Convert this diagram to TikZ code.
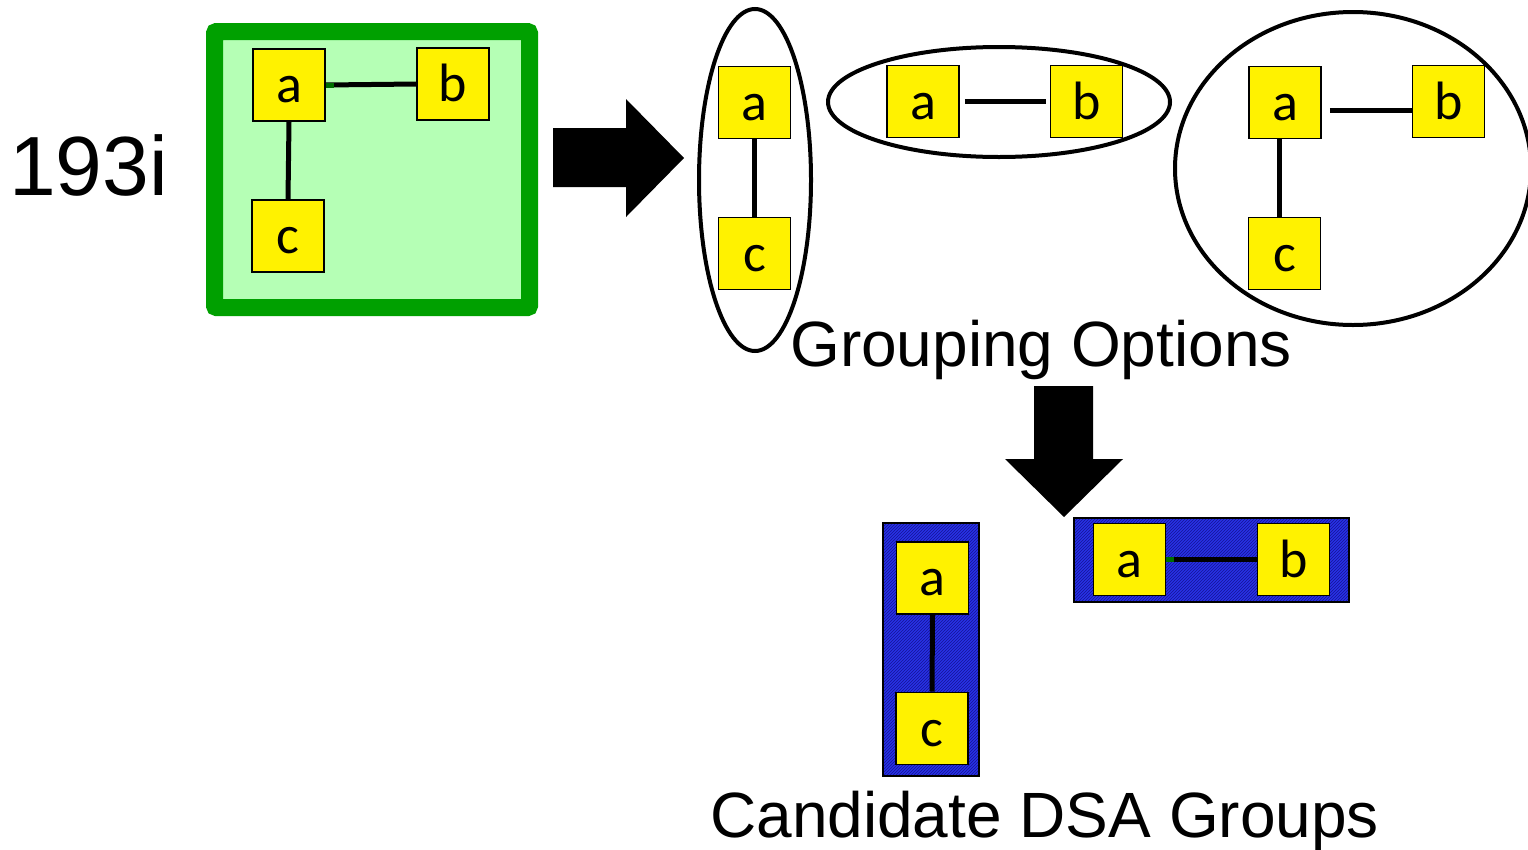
\documentclass[tikz,border=0pt]{standalone}
\usepackage{fontspec}
\setmainfont{Liberation Sans}
\newfontfamily\boxfont{Carlito}
\usetikzlibrary{shapes.geometric,patterns}
\definecolor{frameGreen}{RGB}{0,160,0}
\definecolor{paleGreen}{RGB}{181,255,181}
\definecolor{hatchBlue}{RGB}{20,20,150}
\definecolor{baseBlue}{RGB}{40,50,230}
\definecolor{edgeGreen}{RGB}{0,110,0}
\tikzset{
  vbox/.style={draw=black, line width=1.6pt, fill=yellow, minimum width=72pt,
    minimum height=72pt, inner sep=0pt, text height=35pt, text depth=0pt,
    font=\boxfont\fontsize{54}{54}\selectfont},
  link/.style={line width=5pt},
  stub/.style={line width=5pt, edgeGreen},
  grp/.style={ellipse, draw, line width=4pt, inner sep=0pt},
  dsa/.style={draw=black, line width=2pt, preaction={fill=baseBlue},
    pattern=north east lines, pattern color=hatchBlue, inner sep=0pt},
  bigtext/.style={font=\fontsize{64}{64}\selectfont, inner sep=0pt, anchor=base west},
  blockarrow/.style={fill=black},
}
\begin{document}
\begin{tikzpicture}[x=1pt, y=-1pt]
\useasboundingbox (0,0) rectangle (1528,849);

% label of the input graph
\node[font=\fontsize{84}{84}\selectfont, inner sep=0pt, anchor=base west] (lbl) at (9,195) {193i};

% input graph inside the green frame
\node[draw=frameGreen, fill=paleGreen, line width=17pt, rounded corners=2pt,
      minimum width=315pt, minimum height=276pt, inner sep=0pt] (frame) at (372,169.5) {};
\node[vbox] (ga) at (289,85) {a};
\node[vbox] (gb) at (453,84) {b};
\node[vbox] (gc) at (288,236) {c};
\draw[link] (ga.east) -- (gb.west);
\draw[stub] (ga.east) -- ++(8,0);
\draw[link] (ga.south) -- (gc.north);

% block arrow to the grouping options
\fill[blockarrow] (553,128) -- (626,128) -- (626,99) -- (684,158) -- (626,217)
  -- (626,187) -- (553,187) -- cycle;

% option 1: a--c
\node[grp, minimum width=112pt, minimum height=342pt] (e1) at (755,180) {};
\node[vbox] (e1a) at (754.5,102.5) {a};
\node[vbox] (e1c) at (754.5,253.5) {c};
\draw[link] (e1a.south) -- (e1c.north);

% option 2: a--b
\node[grp, minimum width=342pt, minimum height=110pt] (e2) at (999,102) {};
\node[vbox] (e2a) at (923,101.5) {a};
\node[vbox] (e2b) at (1086.5,101.5) {b};
\draw[link, shorten <=5pt, shorten >=4pt] (e2a.east) -- (e2b.west);

% option 3: a--b and a--c
\node[grp, minimum width=356pt, minimum height=313pt] (e3) at (1353,168.5) {};
\node[vbox] (e3a) at (1285,102.5) {a};
\node[vbox] (e3b) at (1448.5,101.5) {b};
\node[vbox] (e3c) at (1284.5,253.5) {c};
\draw[link, shorten <=8pt] (e3a.east) ++(0,8) coordinate (e3ab) -- (e3ab -| e3b.west);
\draw[link] (e3a.south) ++(-6,0) coordinate (e3ac) -- (e3ac |- e3c.north);

\node[bigtext] (opts) at (790,366) {Grouping Options};

% block arrow down to the candidates
\fill[blockarrow] (1034,386) -- (1093,386) -- (1093,459) -- (1123,459) -- (1064,517)
  -- (1005,459) -- (1034,459) -- cycle;

% candidate group 1
\node[dsa, minimum width=96pt, minimum height=253pt] (d1) at (930.5,649) {};
\node[vbox] (d1a) at (932.5,578) {a};
\node[vbox] (d1c) at (932,728.5) {c};
\draw[link] (d1a.south) -- (d1c.north);

% candidate group 2
\node[dsa, minimum width=275pt, minimum height=84pt] (d2) at (1211.5,560.3) {};
\node[vbox] (d2a) at (1129.5,559.5) {a};
\node[vbox] (d2b) at (1293.3,559.5) {b};
\draw[link] (d2a.east) -- (d2b.west);
\draw[stub] (d2a.east) -- ++(8,0);

\node[bigtext] (cands) at (710,837) {Candidate DSA Groups};
\end{tikzpicture}
\end{document}
